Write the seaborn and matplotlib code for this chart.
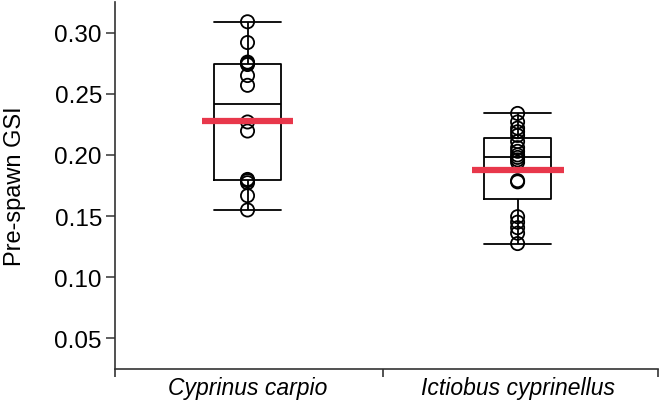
import numpy as np
import pandas as pd
import seaborn as sns
import matplotlib.pyplot as plt

species = ["Cyprinus carpio", "Ictiobus cyprinellus"]
cyprinus_gsi = [0.309, 0.292, 0.276, 0.275, 0.274, 0.265, 0.257, 0.227, 0.2196,
                0.180, 0.179, 0.1773, 0.1667, 0.155]
ictiobus_gsi = [0.234, 0.227, 0.222, 0.219, 0.216, 0.211, 0.206, 0.203, 0.200,
                0.198, 0.196, 0.194, 0.179, 0.178, 0.1495, 0.145, 0.1405, 0.136, 0.1275]
mean_gsi = [0.228, 0.188]
y_ticks = [0.05, 0.10, 0.15, 0.20, 0.25, 0.30]

df = pd.DataFrame({
    "species": [species[0]] * len(cyprinus_gsi) + [species[1]] * len(ictiobus_gsi),
    "gsi": cyprinus_gsi + ictiobus_gsi,
})

sns.set_style("ticks")
plt.rcParams["font.family"] = ["Liberation Sans", "DejaVu Sans"]
plt.rcParams["text.color"] = "black"
plt.rcParams["axes.labelcolor"] = "black"

fig = plt.figure(figsize=(6.62, 4.02), dpi=100)
ax = fig.add_axes([0.174, 0.080, 0.820, 0.912])

sns.boxplot(data=df, x="species", y="gsi", order=species, width=0.25, whis=1.5,
            fill=False, color="black", linewidth=1.3, showfliers=False,
            capwidths=0.25, ax=ax)
sns.stripplot(data=df, x="species", y="gsi", order=species, jitter=False,
              color="black", edgecolor="black", size=9.5, linewidth=1.3, ax=ax)
for coll in ax.collections:
    coll.set_facecolor("none")
    coll.set_edgecolor("black")

# red mean bars
xpos = np.arange(len(species))
ax.hlines(mean_gsi, xpos - 0.17, xpos + 0.17, color="#e8374b", linewidth=4.5, zorder=5)

ax.set_xlim(-0.49, 1.52)
ax.set_ylim(0.025, 0.325)
ax.set_yticks(y_ticks)
ax.set_yticklabels([f"{t:.2f}" for t in y_ticks], fontsize=17.5)
ax.set_xticks(xpos)
ax.set_xticklabels(species, fontsize=16.5, style="italic")
ax.set_xticks([-0.49, 0.5, 1.52], minor=True)
ax.tick_params(axis="x", which="major", length=0, pad=5, labelcolor="black")
ax.tick_params(axis="x", which="minor", length=6, width=1.2, color="#333333")
ax.tick_params(axis="y", length=6.5, width=1.1, color="#333333", pad=3, labelcolor="black")
ax.set_xlabel("")
ax.set_ylabel("Pre-spawn GSI", fontsize=17)
ax.yaxis.set_label_coords(-0.165, 0.5)
for side in ["top", "right"]:
    ax.spines[side].set_visible(False)
for side in ["left", "bottom"]:
    ax.spines[side].set_linewidth(1.2)
    ax.spines[side].set_color("#333333")

fig.savefig("out.png", dpi=100)
